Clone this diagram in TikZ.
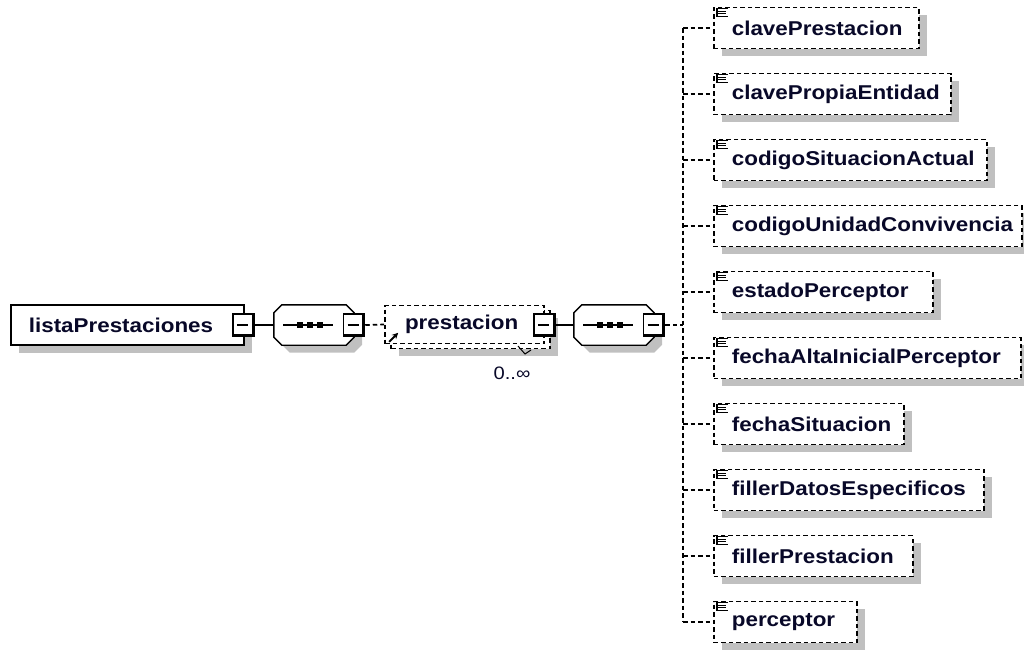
\documentclass[tikz,border=0pt]{standalone}
\usepackage{fontspec}
\setmainfont{Liberation Sans}[FakeStretch=1.12]
\usetikzlibrary{shadows,arrows.meta}
\definecolor{shade}{RGB}{192,192,192}
\definecolor{ink}{RGB}{8,8,40}
\begin{document}
\begin{tikzpicture}[x=1pt,y=-1pt,
  lw/.style={line width=1.7pt},
  dashln/.style={lw, dash pattern=on 4.5pt off 3pt},
  shadowed/.style={drop shadow={shadow xshift=8pt,shadow yshift=-7.5pt,fill=shade,opacity=1}},
  elembase/.style={draw,lw,fill=white,minimum height=40pt,inner ysep=0pt,align=left,font=\fontsize{20}{24}\selectfont\bfseries,text=ink},
  elemdash/.style={elembase,dashln},
  minusbox/.style={draw,line width=1.5pt,fill=white,minimum width=21pt,minimum height=22pt,inner sep=0pt,
    path picture={\draw[line width=5pt] (path picture bounding box.north east) -- (path picture bounding box.south east) -- (path picture bounding box.south west);
      \draw[line width=1.6pt] ([xshift=4pt]path picture bounding box.west) -- ([xshift=-6pt]path picture bounding box.east);}},
  seqnode/.style={minimum width=80pt, minimum height=40pt, inner sep=0pt},
  octo/.style={line width=1.4pt, fill=white, shadowed},
  conn/.style={lw},
  optconn/.style={dashln},
  dotsq/.style={fill=black, minimum size=5.5pt, inner sep=0pt},
  icon/.style={line width=1.2pt}
]
\useasboundingbox (0,0) rectangle (1024,649);

% root element
\node[elembase, shadowed, inner xsep=18pt, text width=197pt, anchor=west] (lista) at (10,325) {listaPrestaciones};
\node[minusbox] (m1) at (243.5,325) {};

% first sequence
\node[seqnode] (seq1) at (314,325) {};
\draw[octo] ([xshift=8pt]seq1.north west) -- ([xshift=-8pt]seq1.north east) -- ([yshift=-8pt]seq1.north east)
  -- ([yshift=8pt]seq1.south east) -- ([xshift=-8pt]seq1.south east) -- ([xshift=8pt]seq1.south west)
  -- ([yshift=8pt]seq1.south west) -- ([yshift=-8pt]seq1.north west) -- cycle;
\draw[line width=1.6pt] ([xshift=-31pt]seq1.center) -- ([xshift=19pt]seq1.center);
\node[dotsq] (s1a) at ([xshift=-14pt]seq1.center) {};
\node[dotsq] (s1b) at ([xshift=-4pt]seq1.center) {};
\node[dotsq] (s1c) at ([xshift=6pt]seq1.center) {};
\node[minusbox] (sm1) at (354,325) {};
\draw[conn] (m1.east) -- (seq1.west);

% prestacion (multiple)
\node[elemdash, shadowed, minimum width=159pt, minimum height=38pt] (prestB) at (470.5,329.5) {};
\node[elemdash, inner xsep=20pt, text width=119pt, minimum height=38pt] (prestA) at (464.5,324.5) {prestacion};
\draw[line width=2pt,-{Stealth[length=6pt,width=6pt]}] ([shift={(5pt,2.5pt)}]prestA.south west) -- ++(9pt,9pt);
\draw[line width=1pt] (518,346) -- (525,354) -- (531,350);
\node[font=\fontsize{18}{20}\selectfont, text=ink] (mult) at (512,373) {0..∞};
\draw[optconn] (sm1.east) -- (prestA.west);
\node[minusbox] (m2) at (544.5,325) {};

% second sequence
\node[seqnode] (seq2) at (614,325) {};
\draw[octo] ([xshift=8pt]seq2.north west) -- ([xshift=-8pt]seq2.north east) -- ([yshift=-8pt]seq2.north east)
  -- ([yshift=8pt]seq2.south east) -- ([xshift=-8pt]seq2.south east) -- ([xshift=8pt]seq2.south west)
  -- ([yshift=8pt]seq2.south west) -- ([yshift=-8pt]seq2.north west) -- cycle;
\draw[line width=1.6pt] ([xshift=-31pt]seq2.center) -- ([xshift=19pt]seq2.center);
\node[dotsq] (s2a) at ([xshift=-14pt]seq2.center) {};
\node[dotsq] (s2b) at ([xshift=-4pt]seq2.center) {};
\node[dotsq] (s2c) at ([xshift=6pt]seq2.center) {};
\node[minusbox] (sm2) at (654,325) {};
\draw[conn] (m2.east) -- (seq2.west);
\coordinate (hub) at (683,325);
\draw[optconn] (sm2.east) -- (hub);

% children
\foreach \i/\name/\w in {0/clavePrestacion/205,1/clavePropiaEntidad/237,2/codigoSituacionActual/273,3/codigoUnidadConvivencia/308,4/estadoPerceptor/219,5/fechaAltaInicialPerceptor/307,6/fechaSituacion/190,7/fillerDatosEspecificos/270,8/fillerPrestacion/199,9/perceptor/143}{
  \pgfmathsetmacro\tw{\w-36}
  \node[elemdash, shadowed, inner xsep=18pt, text width=\tw pt, minimum height=41pt, anchor=west] (c\i) at (713,{28+66*\i}) {\name};
  \draw[icon] ([shift={(4pt,-1.5pt)}]c\i.north west) -- ++(0,-9pt);
  \draw[icon] ([shift={(5pt,-2pt)}]c\i.north west) -- ++(10pt,0);
  \draw[icon] ([shift={(5pt,-4.5pt)}]c\i.north west) -- ++(8pt,0);
  \draw[icon] ([shift={(5pt,-7pt)}]c\i.north west) -- ++(8pt,0);
  \draw[icon] ([shift={(5pt,-9.5pt)}]c\i.north west) -- ++(10pt,0);
  \draw[optconn] (hub |- c\i.west) -- (c\i.west);
}
\draw[optconn] (hub |- c0.west) -- (hub |- c9.west);
\end{tikzpicture}
\end{document}
